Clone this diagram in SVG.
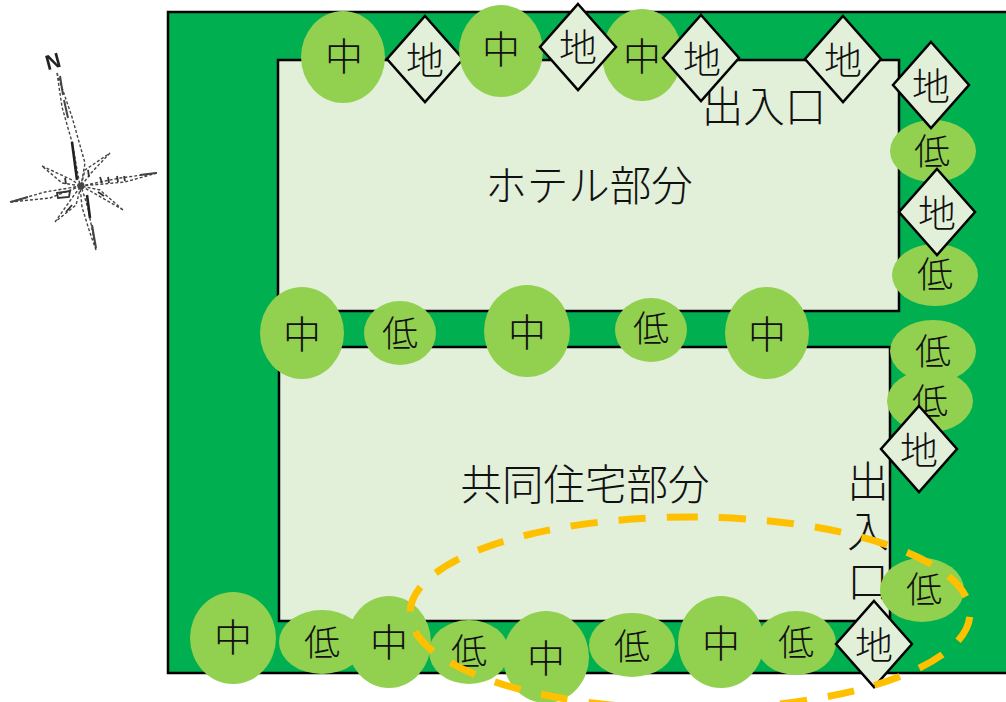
<svg xmlns="http://www.w3.org/2000/svg" width="1006" height="702" viewBox="0 0 1006 702">
<style>
.t{font-family:"Noto Sans CJK JP","Noto Sans",sans-serif;font-weight:300;fill:#111;text-anchor:middle;dominant-baseline:central}
.n{font-size:38px}.l{font-size:36px}.h{font-size:41.5px}
.b{fill:#e2efd9;stroke:#000;stroke-width:2.5}
.g{fill:#92d050}
.d{fill:#e2efd9;stroke:#000;stroke-width:2.5}
.c{fill:none;stroke:#444;stroke-width:1.4;stroke-dasharray:3 2}
.s{fill:none;stroke:#222;stroke-width:2.6}
</style>
<defs><filter id="soft" x="-10%" y="-10%" width="120%" height="120%"><feGaussianBlur stdDeviation="0.55"/></filter></defs>
<g id="site"><rect x="168" y="12" width="840" height="661" fill="#00b050" stroke="#000" stroke-width="2.5"/></g>
<g id="hotel"><rect class="b" x="278" y="60" width="621" height="251"/><text class="t h" x="589" y="183">ホテル部分</text></g>
<g id="housing"><rect class="b" x="279" y="347" width="611" height="274"/><text class="t h" x="585" y="482">共同住宅部分</text></g>
<g id="hotel-entrance"><text class="t h" x="764" y="104">出入口</text></g>
<g id="housing-entrance"><text class="t h" x="868" y="535" style="writing-mode:vertical-rl;letter-spacing:8.5px">出入口</text></g>
<g id="m1"><ellipse class="g" cx="343" cy="57" rx="42" ry="46"/><text class="t n" x="344" y="53">中</text></g>
<g id="e1"><polygon class="d" points="425,16 463,59 425,102 387,59"/><text class="t n" x="425" y="57">地</text></g>
<g id="m2"><ellipse class="g" cx="501" cy="51" rx="42" ry="46"/><text class="t n" x="501" y="46">中</text></g>
<g id="m3"><ellipse class="g" cx="642" cy="55" rx="40" ry="46"/><text class="t n" x="642" y="53">中</text></g>
<g id="e2"><polygon class="d" points="578,4 616,47 578,90 540,47"/><text class="t n" x="578" y="44">地</text></g>
<g id="e3"><polygon class="d" points="701,15 739,58 701,101 663,58"/><text class="t n" x="702" y="56">地</text></g>
<g id="e4"><polygon class="d" points="843,16 881,59 843,102 805,59"/><text class="t n" x="843" y="57">地</text></g>
<g id="s1"><ellipse class="g" cx="933" cy="151" rx="43" ry="31"/><text class="t l" x="932" y="149">低</text></g>
<g id="e5"><polygon class="d" points="931,42 969,85 931,128 893,85"/><text class="t n" x="931" y="83">地</text></g>
<g id="s2"><ellipse class="g" cx="935" cy="275" rx="43" ry="31"/><text class="t l" x="935" y="272">低</text></g>
<g id="e6"><polygon class="d" points="937,169 975,212 937,255 899,212"/><text class="t n" x="937" y="210">地</text></g>
<g id="m4"><ellipse class="g" cx="302" cy="333" rx="42" ry="46"/><text class="t n" x="302" y="331">中</text></g>
<g id="s3"><ellipse class="g" cx="400" cy="333" rx="36" ry="32"/><text class="t l" x="400" y="331">低</text></g>
<g id="m5"><ellipse class="g" cx="527" cy="331" rx="43" ry="46"/><text class="t n" x="527" y="329">中</text></g>
<g id="s4"><ellipse class="g" cx="651" cy="330" rx="36" ry="32"/><text class="t l" x="651" y="326">低</text></g>
<g id="m6"><ellipse class="g" cx="767" cy="333" rx="42" ry="46"/><text class="t n" x="767" y="331">中</text></g>
<g id="s5"><ellipse class="g" cx="933" cy="351" rx="43" ry="31"/><text class="t l" x="933" y="349">低</text></g>
<g id="s6"><ellipse class="g" cx="930" cy="401" rx="43" ry="31"/><text class="t l" x="930" y="399">低</text></g>
<g id="e7"><polygon class="d" points="919,406 957,449 919,492 881,449"/><text class="t n" x="919" y="447">地</text></g>
<g id="s7"><ellipse class="g" cx="922" cy="590" rx="42" ry="32"/><text class="t l" x="924" y="587">低</text></g>
<g id="m7"><ellipse class="g" cx="233" cy="638" rx="43" ry="46"/><text class="t n" x="233" y="634">中</text></g>
<g id="s8"><ellipse class="g" cx="322" cy="642" rx="43" ry="32"/><text class="t l" x="322" y="640">低</text></g>
<g id="m8"><ellipse class="g" cx="389" cy="642" rx="42" ry="46"/><text class="t n" x="389" y="639">中</text></g>
<g id="s9"><ellipse class="g" cx="469" cy="652" rx="40" ry="32"/><text class="t l" x="469" y="649">低</text></g>
<g id="m9"><ellipse class="g" cx="546" cy="657" rx="43" ry="46"/><text class="t n" x="546" y="655">中</text></g>
<g id="s10"><ellipse class="g" cx="632" cy="645" rx="43" ry="32"/><text class="t l" x="632" y="644">低</text></g>
<g id="m10"><ellipse class="g" cx="721" cy="642" rx="43" ry="46"/><text class="t n" x="721" y="640">中</text></g>
<g id="s11"><ellipse class="g" cx="796" cy="643" rx="40" ry="32"/><text class="t l" x="796" y="640">低</text></g>
<g id="e8"><polygon class="d" points="874,601 912,644 874,687 836,644"/><text class="t n" x="874" y="642">地</text></g>
<g id="area"><path d="M690 517A280 96 0 0 1 690 709A280 96 0 0 1 690 517Z" fill="none" stroke="#ffc000" stroke-width="7" stroke-dasharray="27 21" stroke-dashoffset="19"/></g>
<g id="compass" filter="url(#soft)">
<text x="53" y="61" font-family="Liberation Sans,sans-serif" font-weight="700" font-size="21" text-anchor="middle" dominant-baseline="central" fill="#222" transform="rotate(-15 53 61)">N</text>
<path class="c" d="M57 73L62 107 72 142 80 186M57 73L72 117 85 163 81 186M96 250L90 233 82 207 80 186M96 250L88 208 81 186"/>
<path class="c" d="M157 173L120 178 81 186M157 173L125 182 81 186M10 202L45 192 81 186M10 202L50 198 81 186"/>
<path class="c" d="M42 166L72 180 81 186 62 183ZM123 210L92 192 81 186 100 190ZM110 153L92 172 81 186 85 170ZM55 222L72 198 81 186 76 205Z"/>
<path class="s" d="M72 142L77 180M87 195L90 218"/>
<path d="M60 76L63 95M64 100L68 118M140 175L156 173M11 202L28 197M92 225L96 248" fill="none" stroke="#444" stroke-width="2"/>
<path d="M100 177L102 183M108 177L109 183M117 176L118 182M124 176L125 181M57 193L70 191L69 197L58 198ZM88 170L89 177M65 178L66 184M98 192L104 196M66 212L72 205" fill="none" stroke="#333" stroke-width="1.8"/>
<circle cx="81" cy="186" r="3.5" fill="#444"/>
</g>
</svg>
